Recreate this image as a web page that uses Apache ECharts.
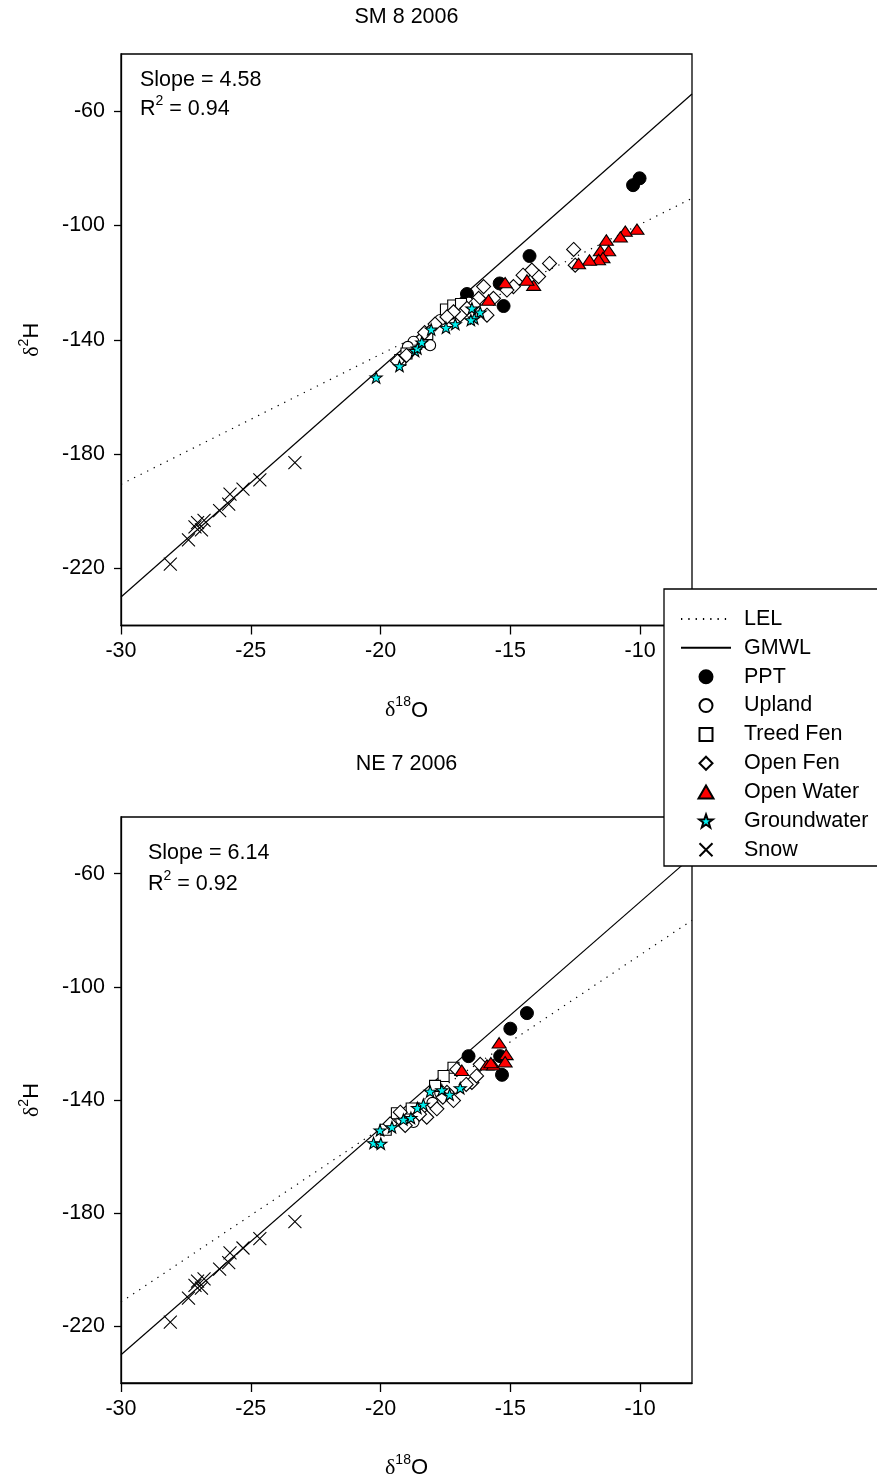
<!DOCTYPE html>
<html>
<head>
<meta charset="utf-8">
<script src="https://cdn.jsdelivr.net/npm/echarts@6/dist/echarts.min.js"></script>
<style>
  html, body { margin: 0; padding: 0; background: #fff; }
  #chart { width: 877px; height: 1480px; }
</style>
</head>
<body>
<div id="chart"></div>
<script>
// Tick values shared by both panels
const xTicks = [-30, -25, -20, -15, -10];
const yTicks = [-220, -180, -140, -100, -60];

// Series names, in legend order
const seriesNames = ['LEL', 'GMWL', 'PPT', 'Upland', 'Treed Fen', 'Open Fen', 'Open Water', 'Groundwater', 'Snow'];

// Panel titles and regression annotations
const panelTitles = ['SM 8 2006', 'NE 7 2006'];
const slopes = ['4.58', '6.14'];
const rSquared = ['0.94', '0.92'];

// Line end points [δ18O, δ2H]
const gmwlLine = [[-30, -230], [-8, -54]];
const smLEL = [[-30, -190.6], [-8, -90.5]];
const neLEL = [[-30, -211.4], [-8, -76.5]];

// Snow samples (same set on both panels)
const snow = [[-28.1, -218.5], [-27.4, -210.0], [-27.15, -205.5], [-27.05, -204.0], [-26.9, -206.5],
  [-26.8, -203.2], [-26.2, -199.8], [-25.85, -197.5], [-25.8, -194.0], [-25.3, -192.3],
  [-24.65, -189.0], [-23.3, -183.0]];

// SM 8 2006
const smPPT = [[-10.27, -85.9], [-10.02, -83.5], [-14.26, -110.7], [-16.67, -124.0], [-15.41, -120.3], [-15.26, -128.2]];
const smUpland = [[-18.73, -140.7], [-18.09, -141.9], [-17.7, -133.1], [-18.95, -142.5], [-17.3, -131.0], [-16.6, -127.0]];
const smTreedFen = [[-17.48, -129.4], [-17.2, -128.0], [-19.24, -147.1], [-19.0, -144.8], [-18.2, -138.0], [-16.9, -127.5]];
const smOpenFen = [[-12.56, -108.4], [-12.5, -113.9], [-13.49, -113.3], [-13.91, -117.9], [-14.17, -115.6],
  [-14.51, -117.4], [-14.88, -121.4], [-15.13, -122.6], [-15.65, -125.5], [-16.03, -121.4],
  [-16.22, -125.5], [-16.42, -127.9], [-15.9, -131.4], [-16.93, -131.4], [-17.19, -130.2],
  [-17.44, -132.0], [-16.67, -129.0], [-17.9, -134.5], [-18.3, -137.5], [-19.0, -145.5], [-19.35, -147.5]];
const smOpenWater = [[-10.12, -101.3], [-10.57, -102.0], [-10.76, -104.0], [-11.3, -105.1], [-11.53, -108.8],
  [-11.21, -108.8], [-11.43, -111.2], [-11.6, -111.9], [-11.95, -112.1], [-12.37, -113.3],
  [-14.1, -120.9], [-14.36, -119.1], [-15.2, -120.0], [-15.84, -126.1]];
const smGroundwater = [[-20.17, -153.2], [-19.27, -149.2], [-18.67, -143.9], [-18.58, -143.0], [-18.41, -140.9],
  [-18.05, -136.4], [-17.48, -135.8], [-17.12, -134.5], [-16.48, -129.0], [-16.16, -130.4],
  [-16.39, -132.5], [-16.52, -133.1]];

// NE 7 2006
const nePPT = [[-14.36, -109.3], [-15.0, -114.8], [-16.61, -124.5], [-15.39, -124.5], [-15.32, -131.1]];
const neUpland = [[-18.73, -147.8], [-18.4, -144.5], [-19.2, -147.0], [-17.7, -137.5], [-18.0, -141.0]];
const neTreedFen = [[-17.19, -128.6], [-17.57, -131.5], [-19.37, -144.7], [-17.9, -135.0], [-18.8, -143.0], [-19.8, -150.5]];
const neOpenFen = [[-16.16, -127.4], [-16.48, -133.8], [-17.19, -140.2], [-17.83, -143.1], [-17.06, -129.2],
  [-17.44, -137.3], [-18.22, -146.1], [-19.05, -149.0], [-19.24, -144.3], [-19.63, -148.4],
  [-16.3, -131.5], [-17.6, -139.0], [-18.5, -145.0], [-16.7, -134.5]];
const neOpenWater = [[-15.43, -119.8], [-15.16, -123.9], [-15.2, -126.5], [-15.9, -127.6], [-15.65, -127.6],
  [-15.75, -126.8], [-16.87, -129.5]];
const neGroundwater = [[-20.27, -155.2], [-19.99, -155.4], [-20.02, -150.7], [-19.56, -149.6], [-19.12, -146.9],
  [-18.83, -146.3], [-18.58, -142.8], [-18.35, -141.6], [-18.09, -137.0], [-17.64, -136.5],
  [-17.34, -138.1], [-16.93, -135.8]];

const panels = [
  { LEL: smLEL, PPT: smPPT, Upland: smUpland, 'Treed Fen': smTreedFen, 'Open Fen': smOpenFen,
    'Open Water': smOpenWater, Groundwater: smGroundwater, Snow: snow },
  { LEL: neLEL, PPT: nePPT, Upland: neUpland, 'Treed Fen': neTreedFen, 'Open Fen': neOpenFen,
    'Open Water': neOpenWater, Groundwater: neGroundwater, Snow: snow }
];

const FONT = '"Liberation Sans", Arial, sans-serif';
const SERIF = '"Liberation Serif", "Times New Roman", serif';
const FS = 21.5;

// Marker shapes as paths so the legend keeps their proportions
const SQUARE = 'path://M0,0L10,0L10,10L0,10Z';
const DIAMOND = 'path://M5,0L10,5L5,10L0,5Z';
const TRIANGLE = 'path://M5,0L10,8.66L0,8.66Z';
const STAR = 'path://M10,0L12.35,6.76L19.51,6.91L13.8,11.24L15.88,18.09L10,14L4.12,18.09L6.2,11.24L0.49,6.91L7.65,6.76Z';
const CROSS = 'path://M0,0L10,10M10,0L0,10';

// Marker styles per group
const markerStyle = {
  PPT: { symbol: 'circle', symbolSize: 13, itemStyle: { color: '#000', borderColor: '#000', borderWidth: 1 } },
  Upland: { symbol: 'circle', symbolSize: 11, itemStyle: { color: '#fff', borderColor: '#000', borderWidth: 1.1 } },
  'Treed Fen': { symbol: SQUARE, symbolSize: 11, itemStyle: { color: '#fff', borderColor: '#000', borderWidth: 1.1 } },
  'Open Fen': { symbol: DIAMOND, symbolSize: 14, itemStyle: { color: '#fff', borderColor: '#000', borderWidth: 1.1 } },
  'Open Water': { symbol: TRIANGLE, symbolSize: [14, 12], itemStyle: { color: '#ff0000', borderColor: '#000', borderWidth: 1.1 } },
  Groundwater: { symbol: STAR, symbolSize: 12, itemStyle: { color: '#00f0f0', borderColor: '#000', borderWidth: 1.1 } },
  Snow: { symbol: CROSS, symbolSize: 13, itemStyle: { color: 'none', borderColor: '#000', borderWidth: 1.1 } }
};

const grids = [
  { left: 121, top: 54, width: 571, height: 571.5 },
  { left: 121, top: 817, width: 571, height: 572 }
];

const deltaName = () => ({
  rich: {
    d: { fontFamily: SERIF, fontSize: 22, color: '#000', lineHeight: 26, verticalAlign: 'bottom' },
    s: { fontFamily: FONT, fontSize: 14, color: '#000', lineHeight: 26, verticalAlign: 'top' },
    n: { fontFamily: FONT, fontSize: 22, color: '#000', lineHeight: 26, verticalAlign: 'bottom' }
  }
});

const option = {
  animation: false,
  backgroundColor: '#fff',
  grid: grids.map(g => Object.assign({ show: true, borderColor: '#000', borderWidth: 1.3, backgroundColor: 'transparent' }, g)),
  xAxis: grids.map((g, i) => ({
    type: 'value', gridIndex: i, min: -30, max: -8,
    name: '{d|δ}{s|18}{n|O}', nameLocation: 'middle', nameGap: 70,
    nameTextStyle: deltaName(),
    axisLine: { show: true, onZero: false, lineStyle: { color: '#000', width: 1.3 } },
    axisTick: { show: true, inside: false, length: 9, customValues: xTicks, lineStyle: { color: '#000', width: 1.3 } },
    axisLabel: { customValues: xTicks, margin: 15, color: '#000', fontSize: FS, fontFamily: FONT },
    splitLine: { show: false }
  })),
  yAxis: grids.map((g, i) => ({
    type: 'value', gridIndex: i, min: -240, max: -40,
    name: '{d|δ}{s|2}{n|H}', nameLocation: 'middle', nameGap: 78, nameRotate: 90,
    nameTextStyle: deltaName(),
    axisLine: { show: true, onZero: false, lineStyle: { color: '#000', width: 1.3 } },
    axisTick: { show: true, inside: false, length: 7, customValues: yTicks, lineStyle: { color: '#000', width: 1.3 } },
    axisLabel: { customValues: yTicks, margin: 16, color: '#000', fontSize: FS, fontFamily: FONT },
    splitLine: { show: false }
  })),
  legend: {
    orient: 'vertical', left: 680, top: 608, padding: 0,
    itemWidth: 50, itemHeight: 13, itemGap: 6.85,
    selectedMode: false, z: 30,
    data: seriesNames,
    textStyle: { color: '#000', fontSize: FS, fontFamily: FONT, padding: [0, 0, 0, 8] }
  },
  graphic: [],
  series: []
};

// Legend frame, drawn over the right side of the panels
option.graphic.push({
  type: 'rect', z: 25, shape: { x: 664, y: 589, width: 240, height: 277 },
  style: { fill: '#fff', stroke: '#000', lineWidth: 1.3 }
});

const titleY = [17, 764];
const noteTop = [[140, 80, 107], [148, 853, 882]];
panels.forEach((p, i) => {
  option.graphic.push({
    type: 'text', x: 406.5, y: titleY[i], z: 10,
    style: { text: panelTitles[i], fontSize: FS, fontFamily: FONT, fill: '#000', align: 'center', verticalAlign: 'middle' }
  });
  option.graphic.push({
    type: 'text', x: noteTop[i][0], y: noteTop[i][1], z: 10,
    style: { text: 'Slope = ' + slopes[i], fontSize: FS, fontFamily: FONT, fill: '#000', align: 'left', verticalAlign: 'middle' }
  });
  option.graphic.push({
    type: 'text', x: noteTop[i][0], y: noteTop[i][2], z: 10,
    style: {
      text: '{a|R}{b|2}{a| = ' + rSquared[i] + '}', align: 'left', verticalAlign: 'middle',
      rich: {
        a: { fontSize: FS, fontFamily: FONT, fill: '#000', lineHeight: 26, verticalAlign: 'bottom' },
        b: { fontSize: 14, fontFamily: FONT, fill: '#000', lineHeight: 26, verticalAlign: 'top' }
      }
    }
  });

  option.series.push({
    name: 'LEL', type: 'line', xAxisIndex: i, yAxisIndex: i, data: p.LEL,
    symbol: 'none', silent: true, z: 1,
    itemStyle: { color: 'rgba(0,0,0,0)', borderWidth: 0 },
    lineStyle: { color: '#000', width: 1.2, type: [1.3, 6] }
  });
  option.series.push({
    name: 'GMWL', type: 'line', xAxisIndex: i, yAxisIndex: i, data: gmwlLine,
    symbol: 'none', silent: true, z: 1,
    itemStyle: { color: 'rgba(0,0,0,0)', borderWidth: 0 },
    lineStyle: { color: '#000', width: 1.2, type: 'solid' }
  });
  ['PPT', 'Upland', 'Treed Fen', 'Open Fen', 'Open Water', 'Groundwater', 'Snow'].forEach((name, k) => {
    const m = markerStyle[name];
    option.series.push({
      name: name, type: 'scatter', xAxisIndex: i, yAxisIndex: i, data: p[name],
      symbol: m.symbol, symbolSize: m.symbolSize, symbolKeepAspect: true,
      itemStyle: Object.assign({ opacity: 1 }, m.itemStyle),
      z: 2 + k, silent: true, emphasis: { disabled: true }
    });
  });
});

const chart = echarts.init(document.getElementById('chart'), null, { renderer: 'canvas' });
chart.setOption(option);
</script>
</body>
</html>
